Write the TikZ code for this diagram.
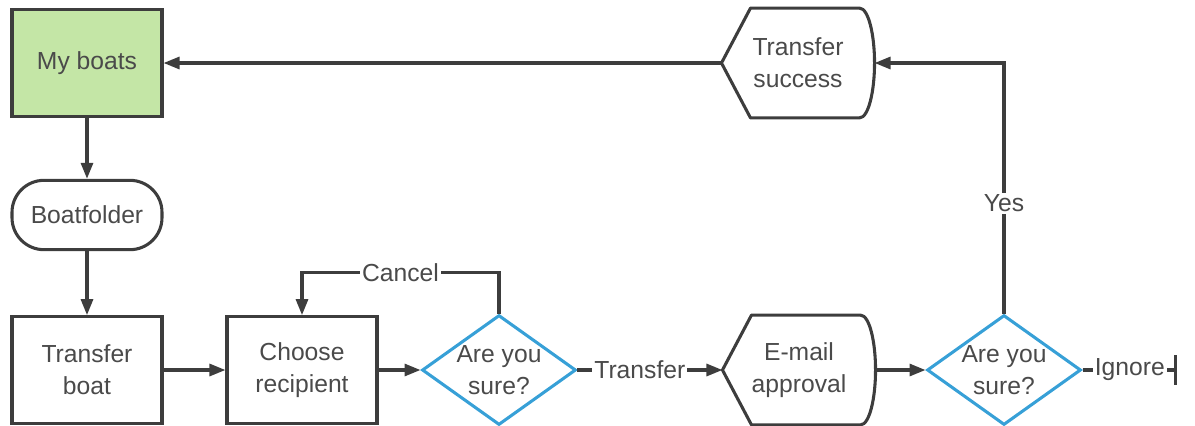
\documentclass[tikz,border=0pt]{standalone}
\usepackage{fontspec}
\setmainfont{Liberation Sans}
\usetikzlibrary{shapes.geometric,arrows.meta,calc}

\definecolor{linegray}{RGB}{61,61,61}
\definecolor{textgray}{RGB}{74,74,74}
\definecolor{boatgreen}{RGB}{196,230,166}
\definecolor{askblue}{RGB}{55,160,215}

\tikzset{every picture/.style={line width=2.3pt},
  box/.style={draw=linegray,rectangle,minimum width=112.5pt,minimum height=80pt,inner sep=0pt,align=center,text=textgray,font=\fontsize{18.5}{24}\selectfont},
  pill/.style={box,minimum height=52pt,rounded corners=24pt},
  display/.style={box,draw=none},
  ask/.style={box,diamond,draw=askblue,aspect=1.4,minimum height=81pt},
  arr/.style={draw=linegray,-{Triangle[length=12pt,width=9pt]}},
  lbl/.style={fill=white,inner sep=1.5pt,text=textgray,font=\fontsize{18.5}{24}\selectfont}}

\begin{document}
\begin{tikzpicture}[x=0.75pt,y=0.75pt,yscale=-1]
\useasboundingbox (0,0) rectangle (1195,425);

%Nodes: left column
\node [box,fill=boatgreen] (boats) at (87,63) {My boats};
\node [pill] (folder) at (87,215) {Boatfolder};
\node [box] (tboat) at (87,370) {Transfer\\boat};

%Nodes: bottom row
\node [box] (choose) at (302,370) {Choose\\recipient};
\node [ask] (sure1) at (499,370) {Are you\\sure?};
\node [display] (email) at (799,370) {E-mail\\approval};
\node [ask] (sure2) at (1004,370) {Are you\\sure?};
\coordinate (stop) at (1177,370);

%Node: top right
\node [display] (success) at (798,63) {Transfer\\success};

%Display shapes outline
\foreach \n in {email,success}
  \draw [linegray,line join=round] (\n.west) -- ($(\n.north west)+(29,0)$) -- ($(\n.north east)+(-15,0)$)
    .. controls ($(\n.north east)+(-6,0)$) and ($(\n.east)+(0,-28)$) .. (\n.east)
    .. controls ($(\n.east)+(0,28)$) and ($(\n.south east)+(-6,0)$) .. ($(\n.south east)+(-15,0)$)
    -- ($(\n.south west)+(29,0)$) -- cycle;

%Connectors
\draw [arr] (boats) -- (folder);
\draw [arr] (folder) -- (tboat);
\draw [arr] (tboat) -- (choose);
\draw [arr] (choose) -- (sure1);
\draw [arr] (sure1.north) -- ++(0,-41) -| node [lbl,pos=0.25] {Cancel} (choose.north);
\draw [arr] (sure1.east) -- node [lbl,pos=0.43] {Transfer} (email.west);
\draw [arr] (email.east) -- (sure2.west);
\draw [arr] (sure2.north) |- node [lbl,pos=0.22] {Yes} (success.east);
\draw [arr] (success.west) -- (boats.east);
\draw [draw=linegray,-{Bar[width=22pt]}] (sure2.east) -- node [lbl,pos=0.5] {Ignore} (stop);

\end{tikzpicture}
\end{document}
